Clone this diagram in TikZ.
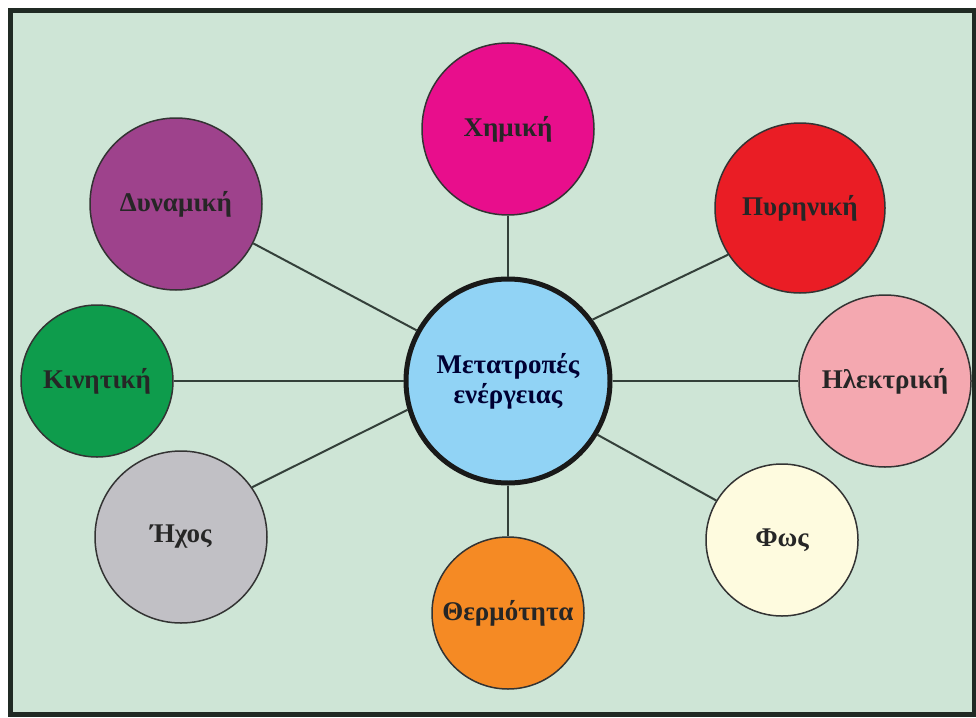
\documentclass[tikz,border=0pt]{standalone}
\usepackage{fontspec}
\setmainfont{Liberation Serif}
\usetikzlibrary{positioning}
\usetikzlibrary{calc}
\definecolor{bgmint}{RGB}{206,229,214}
\definecolor{framedark}{RGB}{32,42,36}
\definecolor{linegray}{RGB}{52,64,58}
\definecolor{hubblue}{RGB}{145,211,245}
\definecolor{cchem}{RGB}{232,14,140}
\definecolor{cdyn}{RGB}{158,66,140}
\definecolor{cpyr}{RGB}{234,29,37}
\definecolor{ckin}{RGB}{14,156,76}
\definecolor{cilek}{RGB}{244,168,176}
\definecolor{cichos}{RGB}{193,192,197}
\definecolor{cfos}{RGB}{254,251,223}
\definecolor{ctherm}{RGB}{245,138,36}
\tikzstyle{vertex}=[circle,draw=black!80,line width=1.5pt,inner sep=0pt,font=\fontsize{27}{32}\selectfont\bfseries,text=black!85]
\tikzstyle{hub}=[circle,draw=black!90,line width=5pt,inner sep=0pt,minimum size=204pt,fill=hubblue,align=center,font=\fontsize{27}{30}\selectfont\bfseries,text=black!80!blue]
\tikzstyle{undirectededge} = [draw,line width=2pt,linegray]

\begin{document}
\begin{tikzpicture}[x=1pt,y=-1pt]

   \useasboundingbox (0,0) rectangle (976,717);
   \draw[fill=bgmint, draw=framedark, line width=5pt] (10.5,10.5) rectangle (974,714.5);

   \node[hub] (c) at (508,381) {Μετατροπές\\ενέργειας};

    \foreach \pos/\name/\size/\col/\label in {
            {(508,129)/chem/172/cchem/Χημική},
            {(176,204)/dyn/172/cdyn/Δυναμική},
            {(800,208)/pyr/170/cpyr/Πυρηνική},
            {(97,381)/kin/152/ckin/Κινητική},
            {(885,381)/ilek/172/cilek/Ηλεκτρική},
            {(181,537)/ichos/172/cichos/Ήχος},
            {(782,540)/fos/152/cfos/Φως},
            {(508,613)/therm/152/ctherm/Θερμότητα}}
            \node[vertex, fill=\col, minimum size=\size pt] (\name) at \pos {\label};

    \foreach \source/ \dest in {c.90/chem.270, c.151/dyn.333, c.36/pyr.213, c.180/kin.0,
                                c.0/ilek.180, c.196/ichos.35, c.329/fos.149, c.270/therm.90}
        \path[undirectededge] (\source) -- (\dest);

\end{tikzpicture}
\end{document}
